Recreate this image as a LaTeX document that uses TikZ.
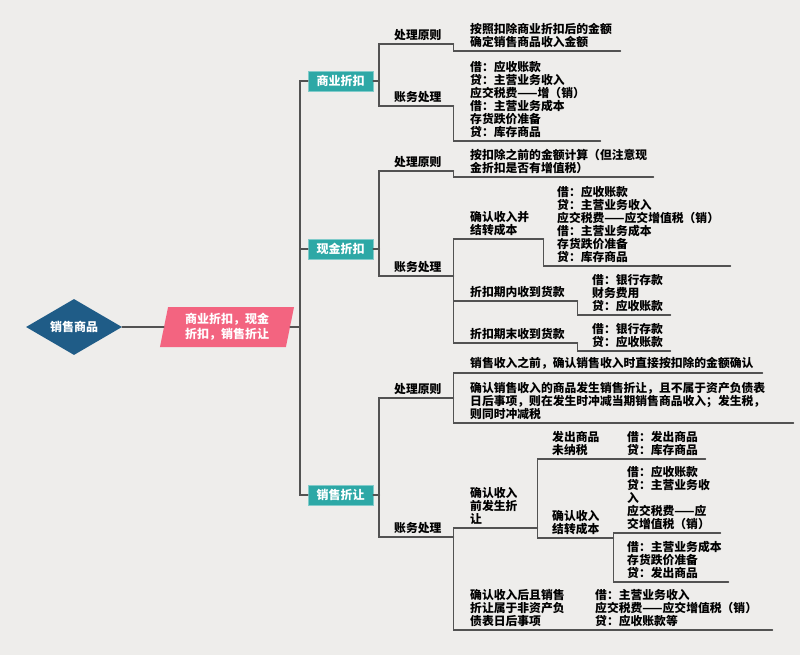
\documentclass[tikz,border=0pt]{standalone}
\usepackage{fontspec}
\setmainfont{Noto Sans CJK SC}
\usetikzlibrary{shapes.geometric}
\definecolor{bgc}{RGB}{238,237,235}
\definecolor{linc}{RGB}{82,82,82}
\definecolor{rootc}{RGB}{31,92,135}
\definecolor{pinkc}{RGB}{243,100,128}
\definecolor{tealc}{RGB}{45,168,166}

\begin{document}
\begin{tikzpicture}[x=1pt,y=-1pt]
\tikzstyle{lin}=[line width=1.6pt, draw=linc, line cap=round]
\tikzstyle{txt}=[anchor=south west, align=left, inner xsep=4pt, inner ysep=3pt, font=\bfseries\fontsize{11.8}{13}\selectfont]
\tikzstyle{box}=[fill=tealc, draw=tealc!60!white, text=white, minimum width=65pt, minimum height=20pt, inner sep=0pt, font=\bfseries\fontsize{12}{14}\selectfont]
\fill[bgc] (0,0) rectangle (800,655);
\useasboundingbox (0,0) rectangle (800,655);
%root
\node[diamond, aspect=1.7, fill=rootc, text=white, minimum width=96pt, minimum height=56pt, inner sep=0pt, font=\bfseries\fontsize{12}{14}\selectfont] (r) at (74,327) {销售商品};
\node[trapezium, trapezium left angle=78, trapezium right angle=102, trapezium stretches=true, fill=pinkc, text=white, minimum width=135pt, minimum height=40pt, inner sep=0pt, align=left, font=\bfseries\fontsize{12}{15}\selectfont] (s) at (227,327) {商业折扣，现金\\折扣，销售折让};
\coordinate (t) at (300,327);
\node[box] (b1) at (340.5,81) {商业折扣};
\node[box] (b2) at (340.5,249) {现金折扣};
\node[box] (b3) at (340.5,495) {销售折让};
\draw[lin] (r.east) -- (s.west);
\draw[lin] (s.east) -- (t);
\draw[lin] (b1.west) -| (t) |- (b3.west);
\draw[lin] (b2.west) -- (b2.west -| t);
%1
\node[txt, text width=55pt] (p1) at (390,44) {处理原则};
\node[txt, text width=55pt] (a1) at (390,106) {账务处理};
\node[txt, text width=146pt] (l11) at (466,51) {按照扣除商业折扣后的金额\\确定销售商品收入金额};
\node[txt, text width=126pt] (l12) at (466,141) {借：应收账款\\贷：主营业务收入\\应交税费——增（销）\\借：主营业务成本\\存货跌价准备\\贷：库存商品};
\coordinate (c1) at ([xshift=6pt]b1.east);
\draw[lin] (b1.east) -- (c1);
\draw[lin] (p1.south west) -| (c1) |- (a1.south west);
\draw[lin] (p1.south east) |- (l11.south west);
\draw[lin] (a1.south east) |- (l12.south west);
%2
\node[txt, text width=55pt] (p2) at (390,171) {处理原则};
\node[txt, text width=55pt] (a2) at (390,276) {账务处理};
\node[txt, text width=179pt] (l21) at (466,177) {按扣除之前的金额计算（但注意现\\金折扣是否有增值税）};
\node[txt, text width=69pt] (m21) at (466,239) {确认收入并\\结转成本};
\node[txt, text width=169pt] (l22) at (553,266) {借：应收账款\\贷：主营业务收入\\应交税费——应交增值税（销）\\借：主营业务成本\\存货跌价准备\\贷：库存商品};
\node[txt, text width=103pt] (m22) at (466,301) {折扣期内收到货款};
\node[txt, text width=74pt] (l23) at (588,315) {借：银行存款\\财务费用\\贷：应收账款};
\node[txt, text width=103pt] (m23) at (466,343) {折扣期末收到货款};
\node[txt, text width=74pt] (l24) at (588,351) {借：银行存款\\贷：应收账款};
\coordinate (c2) at ([xshift=6pt]b2.east);
\draw[lin] (b2.east) -- (c2);
\draw[lin] (p2.south west) -| (c2) |- (a2.south west);
\draw[lin] (p2.south east) |- (l21.south west);
\draw[lin] (m21.south west) -| (a2.south east) |- (m23.south west);
\draw[lin] (a2.south east) |- (m22.south west);
\draw[lin] (m21.south east) |- (l22.south west);
\draw[lin] (m22.south east) |- (l23.south west);
\draw[lin] (m23.south east) |- (l24.south west);
%3
\node[txt, text width=55pt] (p3) at (390,398) {处理原则};
\node[txt, text width=55pt] (a3) at (390,537) {账务处理};
\node[txt, text width=288pt] (l31) at (466,373) {销售收入之前，确认销售收入时直接按扣除的金额确认};
\node[txt, text width=319pt] (l32) at (466,423) {确认销售收入的商品发生销售折让，且不属于资产负债表\\日后事项，则在发生时冲减当期销售商品收入；发生税，\\则同时冲减税};
\node[txt, text width=63pt] (m31) at (466,528) {确认收入\\前发生折\\让};
\node[txt, text width=57pt] (n31) at (548,459) {发出商品\\未纳税};
\node[txt, text width=74pt] (l33) at (623,459) {借：发出商品\\贷：库存商品};
\node[txt, text width=57pt] (n32) at (548,538) {确认收入\\结转成本};
\node[txt, text width=89pt] (l34) at (623,533) {借：应收账款\\贷：主营业务收\\入\\应交税费——应\\交增值税（销）};
\node[txt, text width=97pt] (l35) at (623,582) {借：主营业务成本\\存货跌价准备\\贷：发出商品};
\node[txt, text width=111pt] (m32) at (466,630) {确认收入后且销售\\折让属于非资产负\\债表日后事项};
\node[txt, text width=173pt] (l36) at (591,630) {借：主营业务收入\\应交税费——应交增值税（销）\\贷：应收账款等};
\coordinate (c3) at ([xshift=6pt]b3.east);
\draw[lin] (b3.east) -- (c3);
\draw[lin] (p3.south west) -| (c3) |- (a3.south west);
\draw[lin] (l31.south west) -| (p3.south east) |- (l32.south west);
\draw[lin] (m31.south west) -| (a3.south east) |- (m32.south west);
\draw[lin] (n31.south west) -| (m31.south east) |- (n32.south west);
\draw[lin] (n31.south east) -- (l33.south west);
\draw[lin] (l34.south west) -| (n32.south east) |- (l35.south west);
\draw[lin] (m32.south east) -- (l36.south west);
%underlines
\foreach \n in {p1,a1,l11,l12,p2,a2,l21,m21,l22,m22,l23,m23,l24,p3,a3,l31,l32,m31,n31,l33,n32,l34,l35,m32,l36}
  \draw[lin] (\n.south west) -- (\n.south east);
\end{tikzpicture}
\end{document}
